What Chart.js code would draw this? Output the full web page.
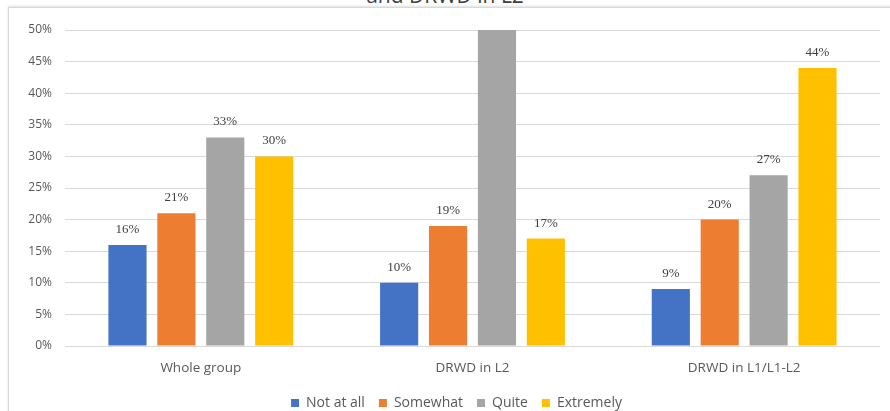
<!DOCTYPE html>
<html>
<head>
<meta charset="utf-8">
<script src="https://cdn.jsdelivr.net/npm/chart.js@4/dist/chart.umd.min.js"></script>
<style>
  html, body { margin: 0; padding: 0; background: #fff; overflow: hidden; }
  #wrap { position: relative; width: 890px; height: 411px; overflow: hidden; }
  #heading {
    position: absolute; left: 0; width: 890px; top: -15px;
    text-align: center; font: 21px "Open Sans", sans-serif; color: #404040;
    line-height: 21px;
  }
  #frame {
    position: absolute; left: 8px; top: 7px; width: 900px; height: 420px;
    border: 1px solid #d9d9d9; box-shadow: 0 -1px 2px rgba(0,0,0,0.12);
    background: transparent;
  }
  #chart { position: absolute; left: 0; top: 0; }
</style>
</head>
<body>
<div id="wrap">
  <div id="heading">and DRWD in L2</div>
  <div id="frame"></div>
  <canvas id="chart" width="890" height="420"></canvas>
</div>
<script>
// Response groups and shares (%) for each level of agreement
const groups = ["Whole group", "DRWD in L2", "DRWD in L1/L1-L2"];
const seriesNames = ["Not at all", "Somewhat", "Quite", "Extremely"];
const notAtAll = [16, 10, 9];
const somewhat = [21, 19, 20];
const quite = [33, 50, 27];
const extremely = [30, 17, 44];
const seriesColors = ["#4472C4", "#ED7D31", "#A5A5A5", "#FFC000"];

const seriesValues = [notAtAll, somewhat, quite, extremely];

// Value labels above each bar; labels that would sit above the plot are left out
const barLabels = {
  id: "barLabels",
  afterDatasetsDraw(chart) {
    const ctx = chart.ctx;
    const area = chart.chartArea;
    ctx.save();
    ctx.font = "13px 'Liberation Serif', serif";
    ctx.fillStyle = "#404040";
    ctx.textAlign = "center";
    ctx.textBaseline = "alphabetic";
    chart.data.datasets.forEach((ds, i) => {
      const meta = chart.getDatasetMeta(i);
      meta.data.forEach((bar, j) => {
        const y = bar.y - 12;
        if (y - 10 < area.top) return;
        ctx.fillText(ds.data[j] + "%", bar.x, y);
      });
    });
    ctx.restore();
  }
};

// Centre the legend under the plot area rather than the whole canvas
const legendUnderPlot = {
  id: "legendUnderPlot",
  afterLayout(chart) {
    const lg = chart.legend;
    const area = chart.chartArea;
    const shift = (area.left + area.right) / 2 - (lg.left + lg.right) / 2 - 16;
    lg.left += shift;
    lg.right += shift;
  }
};

new Chart(document.getElementById("chart"), {
  type: "bar",
  data: {
    labels: groups,
    datasets: seriesNames.map((name, i) => ({
      label: name,
      data: seriesValues[i],
      backgroundColor: seriesColors[i],
      borderWidth: 0,
      categoryPercentage: 0.72,
      barPercentage: 0.78
    }))
  },
  options: {
    responsive: false,
    animation: false,
    devicePixelRatio: 1,
    layout: { padding: { left: 0, right: 10, top: 30, bottom: 0 } },
    plugins: {
      legend: {
        position: "bottom",
        labels: {
          boxWidth: 8,
          boxHeight: 8,
          padding: 14,
          color: "#595959",
          font: { family: "'Open Sans', sans-serif", size: 14 }
        }
      },
      tooltip: { enabled: false }
    },
    scales: {
      x: {
        afterFit(scale) { scale.height = 36; },
        grid: { display: false },
        border: { display: false },
        ticks: {
          color: "#595959",
          padding: 6,
          font: { family: "'Open Sans', sans-serif", size: 13.5 }
        }
      },
      y: {
        min: 0,
        max: 50,
        afterFit(scale) { scale.width = 65; },
        grid: { color: "#d9d9d9", lineWidth: 1, drawTicks: false },
        border: { display: false },
        ticks: {
          stepSize: 5,
          padding: 13,
          color: "#595959",
          font: { family: "'Open Sans', sans-serif", size: 12 },
          callback: v => v + "%"
        }
      }
    }
  },
  plugins: [barLabels, legendUnderPlot]
});
</script>
</body>
</html>
